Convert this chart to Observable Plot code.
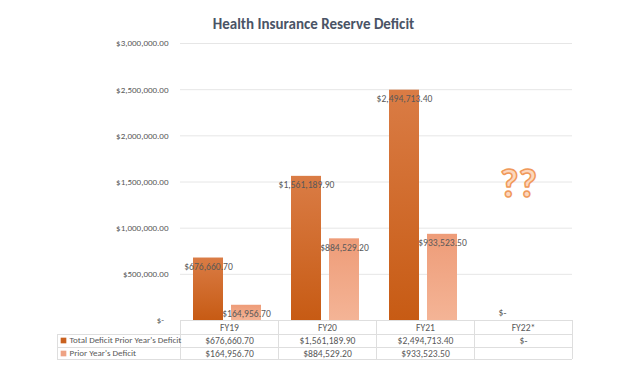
<!DOCTYPE html>
<html>
<head>
<meta charset="utf-8">
<script src="https://cdn.jsdelivr.net/npm/d3@7"></script>
<script src="https://cdn.jsdelivr.net/npm/@observablehq/plot@0.6"></script>
<style>
  html, body { margin: 0; padding: 0; background: #ffffff; }
  #wrap { width: 627px; height: 376px; overflow: hidden; }
  #title { height: 36px; box-sizing: border-box; padding-top: 15px; line-height: 18px;
           text-align: center; font-family: Carlito, Lato, "Open Sans", sans-serif;
           font-weight: bold; font-size: 15px; color: #4a5466; }
</style>
</head>
<body>
<div id="wrap">
  <div id="title">Health Insurance Reserve Deficit</div>
  <div id="chart"></div>
</div>
<script>
const categories = ["FY19", "FY20", "FY21", "FY22*"];
const totalDeficit = [676660.70, 1561189.90, 2494713.40, 0];
const priorDeficit = [164956.70, 884529.20, 933523.50, null];
const seriesNames = ["Total Deficit Prior Year's Deficit", "Prior Year's Deficit"];
const yTicks = [0, 500000, 1000000, 1500000, 2000000, 2500000, 3000000];
const noteCategory = "FY22*";
const noteValue = 1480000;
const noteText = "??";

const money = d3.format("$,.2f");
const fmt = v => v == null ? "" : (v === 0 ? "$-" : money(v));

const total = categories.map((c, i) => ({cat: c, value: totalDeficit[i]}));
const prior = categories.map((c, i) => ({cat: c, value: priorDeficit[i]})).filter(d => d.value != null);
const tableRows = [totalDeficit, priorDeficit];

const font = "Carlito, Lato, 'Open Sans', sans-serif";
const textColor = "#595959";
const lineColor = "#dedede";
const seriesColors = ["#c9611f", "#eea283"];
const valSize = 9.6;

const plotH = 340, mTop = 7, mBottom = 56;
const frameH = plotH - mTop - mBottom;

const marks = [
  Plot.ruleY(yTicks.filter(d => d > 0), {stroke: "#e6e6e6"}),
  Plot.barY(total, {x: "cat", y: "value", fill: "url(#gDark)", insetLeft: 13, insetRight: 55}),
  Plot.barY(prior, {x: "cat", y: "value", fill: "url(#gLight)", insetLeft: 51, insetRight: 17}),
  Plot.text(total.filter(d => d.value > 0), {x: "cat", y: "value", text: d => fmt(d.value), dx: -21, dy: 9, fill: textColor, fontSize: valSize}),
  Plot.text(total.filter(d => d.value === 0), {x: "cat", y: "value", text: d => fmt(d.value), dx: -21, dy: -8, fill: textColor, fontSize: valSize}),
  Plot.text(prior, {x: "cat", y: "value", text: d => fmt(d.value), dx: 17, dy: 9, fill: textColor, fontSize: valSize}),
  Plot.axisY({ticks: yTicks, tickFormat: d => d === 0 ? "$-\u2002" : money(d), tickSize: 0, tickPadding: 12, fontSize: 9, label: null}),
  // note
  Plot.text([noteText], {x: () => noteCategory, y: () => noteValue, text: d => d, dx: -5, fontSize: 40, fontWeight: "bold",
    fill: "#fcd7bd", stroke: "#f0995a", strokeWidth: 1.5, paintOrder: "normal"}),
  // table lines
  Plot.ruleY([0], {stroke: lineColor}),
  Plot.ruleY([0], {stroke: lineColor, dy: 14, insetLeft: -123}),
  Plot.ruleY([0], {stroke: lineColor, dy: 27, insetLeft: -123}),
  Plot.ruleY([0], {stroke: lineColor, dy: 39, insetLeft: -123}),
  Plot.ruleX(categories, {x: d => d, dx: -49, stroke: lineColor, insetTop: frameH, insetBottom: -39}),
  Plot.ruleX([categories[categories.length - 1]], {x: d => d, dx: 49, stroke: lineColor, insetTop: frameH, insetBottom: -39}),
  Plot.ruleX([categories[0]], {x: d => d, dx: -172, stroke: lineColor, insetTop: frameH + 14, insetBottom: -39}),
  // table header
  Plot.text(categories, {x: d => d, frameAnchor: "bottom", dy: 7, lineAnchor: "middle", fill: textColor, fontSize: valSize})
];

tableRows.forEach((row, r) => {
  const cells = categories.map((c, i) => ({cat: c, value: row[i]})).filter(d => d.value != null);
  marks.push(Plot.text(cells, {x: "cat", frameAnchor: "bottom", text: d => fmt(d.value), dy: 20 + 13 * r, lineAnchor: "middle", fill: textColor, fontSize: valSize}));
  marks.push(Plot.dot([seriesNames[r]], {frameAnchor: "bottom-left", dx: -117, dy: 20 + 13 * r, symbol: "square", r: 3.2, fill: seriesColors[r], stroke: "none"}));
  marks.push(Plot.text([seriesNames[r]], {frameAnchor: "bottom-left", text: d => d, dx: -111, dy: 20 + 13 * r, textAnchor: "start", lineAnchor: "middle", fill: textColor, fontSize: 9}));
});

const chart = Plot.plot({
  width: 627,
  height: plotH,
  marginTop: mTop,
  marginBottom: mBottom,
  marginLeft: 180,
  marginRight: 55,
  style: {fontFamily: font, fontSize: "9px", color: textColor, background: "transparent", overflow: "visible"},
  x: {domain: categories, padding: 0, axis: null},
  y: {domain: [0, 3000000], label: null},
  marks
});

const defs = d3.select(chart).insert("defs", ":first-child");
const gd = defs.append("linearGradient").attr("id", "gDark").attr("x1", 0).attr("y1", 0).attr("x2", 0).attr("y2", 1);
gd.append("stop").attr("offset", "0%").attr("stop-color", "#da7c45");
gd.append("stop").attr("offset", "100%").attr("stop-color", "#c75b14");
const gl = defs.append("linearGradient").attr("id", "gLight").attr("x1", 0).attr("y1", 0).attr("x2", 0).attr("y2", 1);
gl.append("stop").attr("offset", "0%").attr("stop-color", "#ee9c78");
gl.append("stop").attr("offset", "100%").attr("stop-color", "#f4b496");

document.getElementById("chart").appendChild(chart);
</script>
</body>
</html>
